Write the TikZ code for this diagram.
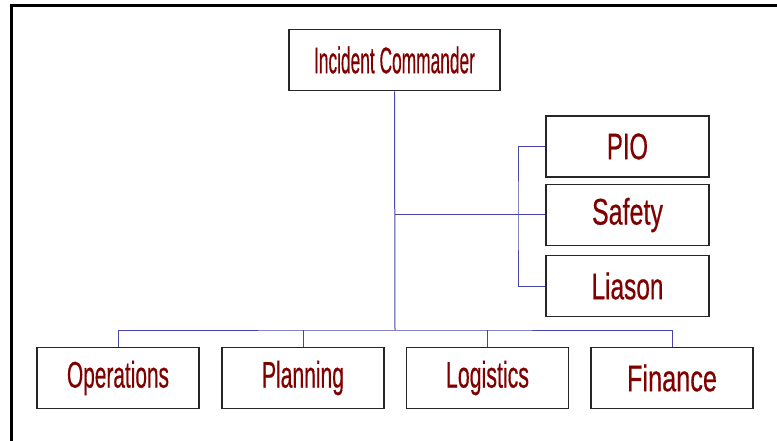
\documentclass[tikz,border=0pt]{standalone}
\usepackage{fontspec}
\setmainfont{Liberation Sans}
\newfontfamily\lblfont[FakeBold=0.6]{Liberation Sans}
\usepackage{graphicx}
\definecolor{txtred}{RGB}{128,0,0}
\definecolor{linkblue}{RGB}{70,70,170}
\newcommand{\lbl}[2]{\resizebox{#1pt}{\height}{#2}}
\begin{document}
\begin{tikzpicture}[x=1pt,y=-1pt,
  orgbox/.style={draw=black!85, line width=1.8pt, fill=white, rectangle,
    minimum width=#1, minimum height=61pt, inner sep=0pt,
    text=txtred, font=\lblfont\fontsize{37}{44}\selectfont},
  orgbox/.default=162pt,
  link/.style={draw=linkblue, line width=1pt}]
\useasboundingbox (0,0) rectangle (777,441);
\fill[white] (0,0) rectangle (777,441);
% frame
\draw[line width=2.6pt, black] (11.3,441) -- (11.3,5.3) -- (777,5.3);
% nodes
\node[orgbox=211pt] (ic) at (394.5,60) {\lbl{161}{Incident Commander}};
\node[orgbox=163pt] (pio) at (627.5,146.5) {\lbl{41}{PIO}};
\node[orgbox=163pt] (safety) at (627.5,215) {\lbl{71}{Safety}};
\node[orgbox=163pt] (liason) at (627.5,286) {\lbl{72}{Liason}};
\node[orgbox] (ops) at (118,378) {\lbl{102}{Operations}};
\node[orgbox] (plan) at (303,378) {\lbl{82}{Planning}};
\node[orgbox] (log) at (487.5,378) {\lbl{83}{Logistics}};
\node[orgbox] (fin) at (672,378) {\lbl{90}{Finance}};
% connectors
\coordinate (bus) at (395,330);
\coordinate (br) at (395,215);
\coordinate (brk) at (518,215);
\draw[link] (ic.south) -- (bus);
\draw[link] (br) -- (safety.west);
\draw[link] (pio.west) -| (brk) |- (liason.west);
\draw[link] (ops.north) |- (bus) -| (fin.north);
\draw[link] (plan.north) -- (plan.north |- bus);
\draw[link] (log.north) -- (log.north |- bus);
\end{tikzpicture}
\end{document}
